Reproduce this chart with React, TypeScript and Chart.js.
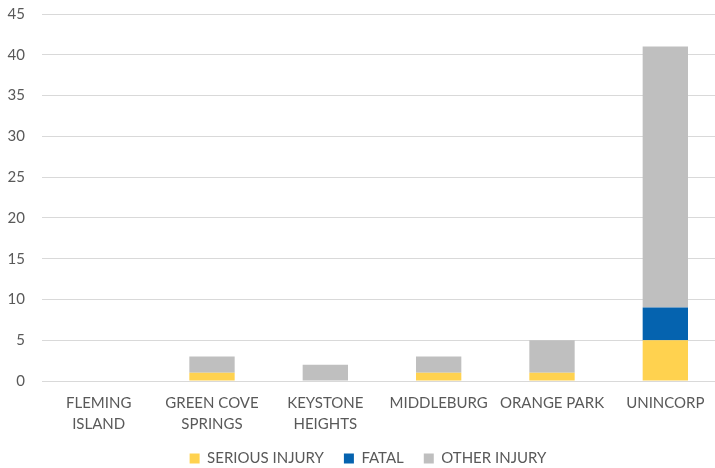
import React, { useEffect, useRef } from "react";
import { Chart, registerables } from "chart.js";

Chart.register(...registerables);

const categories: (string | string[])[] = [
  ["FLEMING", "ISLAND"],
  ["GREEN COVE", "SPRINGS"],
  ["KEYSTONE", "HEIGHTS"],
  "MIDDLEBURG",
  "ORANGE PARK",
  "UNINCORP",
];
const seriousInjury = [0, 1, 0, 1, 1, 5];
const fatal = [0, 0, 0, 0, 0, 4];
const otherInjury = [0, 2, 2, 2, 4, 32];
const yTickStep = 5;
const yMax = 45;

const FONT = "Lato, 'Open Sans', sans-serif";
const TEXT = "#595959";

const shiftLegend = {
  id: "shiftLegend",
  afterLayout(chart: any) {
    const l = chart.legend;
    if (l) {
      l.left += 7;
      l.right += 7;
    }
  },
};

export default function App() {
  const ref = useRef<HTMLCanvasElement | null>(null);

  useEffect(() => {
    document.body.style.margin = "0";
    if (!ref.current) return;
    const chart = new Chart(ref.current, {
      type: "bar",
      data: {
        labels: categories,
        datasets: [
          { label: "SERIOUS INJURY", data: seriousInjury, backgroundColor: "#FFD24F" },
          { label: "FATAL", data: fatal, backgroundColor: "#0563AF" },
          { label: "OTHER INJURY", data: otherInjury, backgroundColor: "#BFBFBF" },
        ],
      },
      plugins: [shiftLegend],
      options: {
        animation: false,
        responsive: false,
        maintainAspectRatio: false,
        layout: { padding: { left: 0, right: 0, top: 0, bottom: 0 } },
        datasets: { bar: { categoryPercentage: 1, barPercentage: 0.4 } },
        plugins: {
          legend: {
            position: "bottom",
            labels: {
              boxWidth: 10,
              boxHeight: 10,
              color: TEXT,
              font: { family: FONT, size: 15 },
              padding: 20,
            },
          },
          tooltip: { enabled: false },
        },
        scales: {
          x: {
            stacked: true,
            grid: { display: false, drawTicks: false },
            border: { display: false },
            ticks: {
              color: TEXT,
              font: { family: FONT, size: 15, lineHeight: 1.4 },
              maxRotation: 0,
              autoSkip: false,
              padding: 12,
            },
            afterFit: (s: any) => {
              s.height = 50;
            },
          },
          y: {
            stacked: true,
            min: 0,
            max: yMax,
            grid: { color: "#D9D9D9", lineWidth: 1, drawTicks: false },
            border: { display: false },
            ticks: {
              stepSize: yTickStep,
              color: TEXT,
              font: { family: FONT, size: 15 },
              padding: 17,
            },
            afterFit: (s: any) => {
              s.width = 42;
              s.paddingTop = 14;
              s.paddingBottom = 0;
            },
          },
        },
      },
    });
    return () => chart.destroy();
  }, []);

  return (
    <div style={{ width: 715, height: 468, overflow: "hidden", position: "relative" }}>
      <canvas ref={ref} width={722} height={476} style={{ width: 722, height: 476, display: "block" }} />
    </div>
  );
}
